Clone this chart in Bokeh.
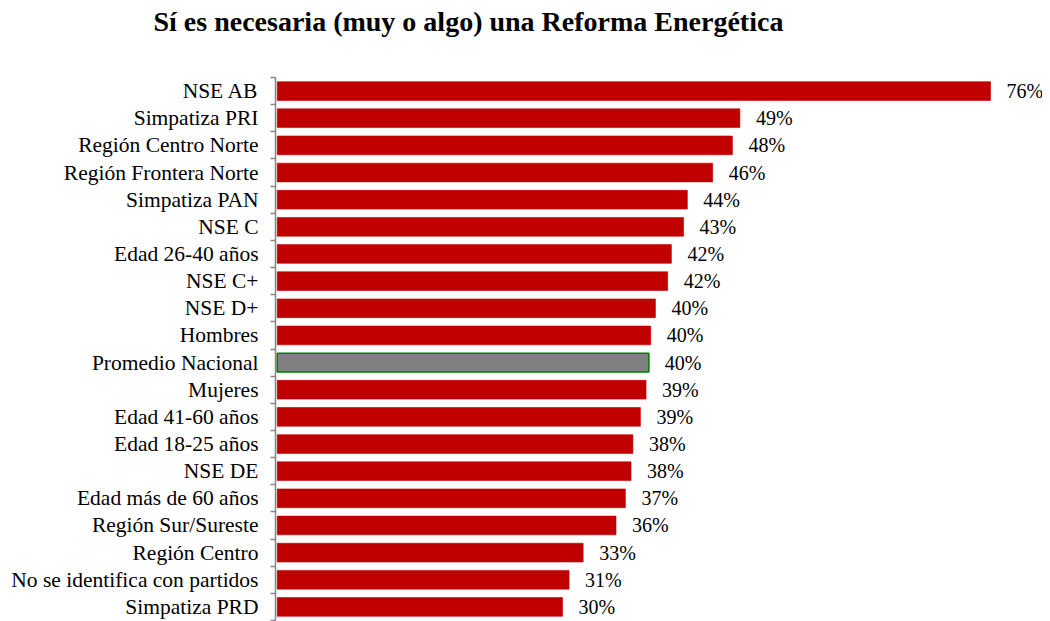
from bokeh.plotting import figure
from bokeh.models import ColumnDataSource, FixedTicker, LabelSet, Range1d
from bokeh.embed import file_html
from bokeh.resources import INLINE

# Data (top to bottom as in the reference)
categories = ["NSE AB", "Simpatiza PRI", "Región Centro Norte", "Región Frontera Norte",
              "Simpatiza PAN", "NSE C", "Edad 26-40 años", "NSE C+", "NSE D+", "Hombres",
              "Promedio Nacional", "Mujeres", "Edad 41-60 años", "Edad 18-25 años", "NSE DE",
              "Edad más de 60 años", "Región Sur/Sureste", "Región Centro",
              "No se identifica con partidos", "Simpatiza PRD"]
values = [76.0, 49.3, 48.5, 46.4, 43.7, 43.3, 42.0, 41.6, 40.3, 39.8,
          39.6, 39.3, 38.7, 37.9, 37.7, 37.1, 36.1, 32.6, 31.1, 30.4]
value_labels = ["76%", "49%", "48%", "46%", "44%", "43%", "42%", "42%", "40%", "40%",
                "40%", "39%", "39%", "38%", "38%", "37%", "36%", "33%", "31%", "30%"]
highlight = "Promedio Nacional"
title_text = "Sí es necesaria (muy o algo) una Reforma Energética"

n = len(categories)
ypos = [n - 1 - i + 0.5 for i in range(n)]
fills = ["#808080" if c == highlight else "#C00000" for c in categories]
lines = ["#008000" if c == highlight else "#C00000" for c in categories]
lws = [1.6 if c == highlight else 0.6 for c in categories]

src = ColumnDataSource(dict(y=ypos, v=values, cat=categories, lab=value_labels,
                            fill=fills, line=lines, lw=lws))

FONT = "Liberation Serif"

p = figure(width=1042, height=621, output_backend="svg", toolbar_location=None,
           x_range=Range1d(-0.18, 81.54), y_range=Range1d(0, n),
           min_border_left=275, min_border_right=0, min_border_top=0, min_border_bottom=1)

p.title.text = title_text
p.title.text_font = FONT
p.title.text_font_size = "28px"
p.title.text_font_style = "bold"
p.title.text_color = "#000000"
p.title.align = "left"
p.title.offset = -122
p.title.standoff = 0
p.title.padding = (0, 0, 3, 41)

p.hbar(y="y", left=0, right="v", height=0.69, source=src,
       fill_color="fill", line_color="line", line_width="lw")

labels = LabelSet(x="v", y="y", text="lab", source=src, x_offset=16,
                  text_baseline="middle", text_font=FONT, text_font_size="20px",
                  text_color="#000000")
p.add_layout(labels)

p.xaxis.visible = False
p.xgrid.visible = False
p.ygrid.visible = False
p.outline_line_color = None

ax = p.yaxis[0]
ax.ticker = FixedTicker(ticks=ypos, minor_ticks=list(range(0, n + 1)))
ax.major_label_overrides = {y: c for y, c in zip(ypos, categories)}
ax.major_tick_line_color = None
ax.minor_tick_line_color = "#868686"
ax.minor_tick_in = 0
ax.minor_tick_out = 5
ax.minor_tick_line_width = 1.5
ax.axis_line_color = "#868686"
ax.axis_line_width = 1.5
ax.major_label_text_font = FONT
ax.major_label_text_font_size = "21.5px"
ax.major_label_text_color = "#000000"
ax.major_label_standoff = 11

open("out.html", "w").write(file_html(p, INLINE))
